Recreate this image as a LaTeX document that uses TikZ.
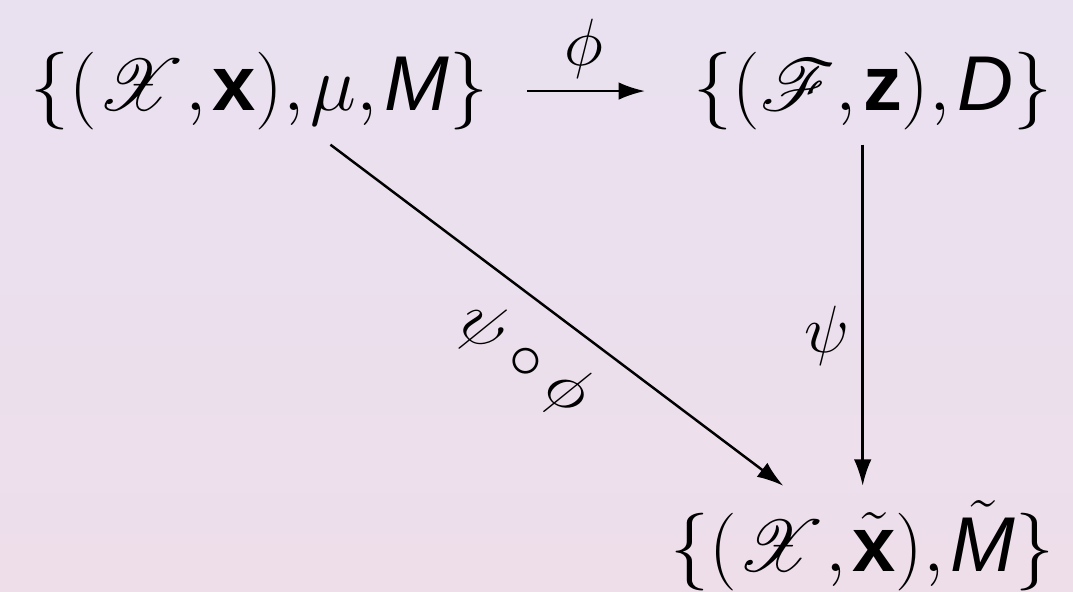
\RequirePackage{fix-cm}
\documentclass[tikz,border=0pt]{standalone}
\usepackage{amsmath,amssymb}
\usepackage{mathrsfs}
\usepackage{fontspec}
\setsansfont{Liberation Sans}
\usetikzlibrary{arrows.meta}
\definecolor{slidetop}{RGB}{233,225,240}
\definecolor{slidebottom}{RGB}{238,222,234}
\newcommand{\sfit}[1]{\text{\sffamily\itshape #1}}
\newcommand{\sfbf}[1]{\text{\sffamily\bfseries #1}}
\newcommand{\bigmath}{\fontsize{22.1}{26}\selectfont}
\newcommand{\labmath}{\fontsize{19}{22}\selectfont}
\thinmuskip=1.5mu

\begin{document}
\begin{tikzpicture}[x=0.01cm,y=-0.01cm]
\tikzstyle{obj} = [inner sep=4pt, font=\bigmath]
\tikzstyle{arrow} = [line width=0.7pt,-{Latex[length=7.5pt,width=5pt]}]
\tikzstyle{lab} = [font=\labmath]

\shade [top color=slidetop, bottom color=slidebottom] (0,0) rectangle (1073,592);
\useasboundingbox (0,0) rectangle (1073,592);

\node (src) [obj, anchor=base west] at (16,110.5) {$\{(\mathscr{X},\sfbf{x}),\mu,\sfit{M}\}$};
\node (feat) [obj, anchor=base west] at (679,110.5) {$\{(\mathscr{F},\sfbf{z}),\sfit{D}\}$};
\node (out) [obj, anchor=base west] at (656,571.5) {$\{(\mathscr{X},\tilde{\sfbf{x}}),\tilde{\sfit{M}}\}$};

\draw [arrow, shorten <=0.24cm, shorten >=0.34cm] (src.east) -- node[lab, above, pos=0.46] {$\phi$} (feat.west);
\draw [arrow] (feat.south -| out.north) -- node[lab, left, pos=0.56] {$\psi$} (out.north);
\draw [arrow] (src) -- node[lab, sloped, below, inner sep=7pt] {$\psi\circ\phi$} (out);

\end{tikzpicture}
\end{document}
